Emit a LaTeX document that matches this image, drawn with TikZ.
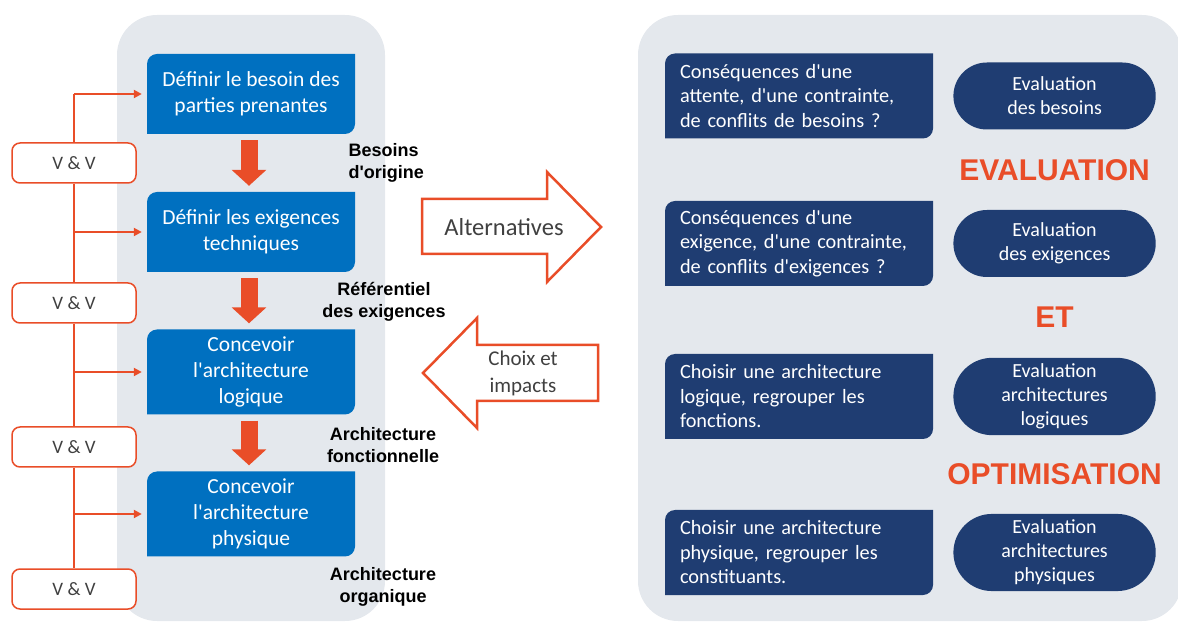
\documentclass[tikz,border=0pt]{standalone}
\usepackage{fontspec}
\setmainfont{Carlito}[Ligatures=TeXOff]
\newfontfamily\arial{Liberation Sans}
\usetikzlibrary{positioning,calc,arrows.meta,shapes.misc}
\definecolor{fondgris}{RGB}{228,232,237}
\definecolor{bleuclair}{RGB}{0,112,192}
\definecolor{bleunuit}{RGB}{31,61,114}
\definecolor{rougeorange}{RGB}{233,77,40}
\definecolor{textegris}{RGB}{64,64,64}
\tikzset{
  coins/.style={fill=fondgris,path picture={\fill[#1] (path picture bounding box.south west) -- ([yshift=-10pt]path picture bounding box.north west) arc[start angle=180,end angle=90,radius=10pt] -- (path picture bounding box.north east) -- ([yshift=10pt]path picture bounding box.south east) arc[start angle=0,end angle=-90,radius=10pt] -- cycle;}},
  etape/.style={coins=bleuclair,text=white,align=center,minimum width=208pt,font=\fontsize{21.5}{26}\selectfont},
  piece/.style={coins=bleunuit,text=white,align=left,text width=238pt,inner xsep=15pt,minimum height=85pt,font=\fontsize{20.3}{24.5}\selectfont},
  pastille/.style={rounded rectangle,fill=bleunuit,text=white,align=center,minimum width=209pt,minimum height=67pt,inner ysep=6pt,font=\fontsize{20}{24}\selectfont},
  vv/.style={draw=rougeorange,line width=1.5pt,rounded corners=8pt,fill=white,text=textegris,minimum width=124pt,minimum height=40pt,font=\fontsize{19}{21}\selectfont},
  etiq/.style={align=center,font=\arial\bfseries\fontsize{18}{22.5}\selectfont},
  rouge/.style={text=rougeorange,font=\arial\bfseries\fontsize{30}{36}\selectfont},
  tronc/.style={draw=rougeorange,line width=2.2pt},
  branche/.style={tronc,-{Triangle[length=8pt,width=8pt]},shorten >=5pt},
  descente/.style={draw=rougeorange,line width=17pt,-{Triangle[length=16pt,width=34pt]},shorten <=6pt,shorten >=6pt},
  grossefleche/.style={draw=rougeorange,line width=2.5pt,fill=white,line join=miter}
}
\begin{document}
\begin{tikzpicture}[x=1pt,y=1pt]
\useasboundingbox (0,0) rectangle (1178,624);
\fill[fondgris,rounded corners=40pt] (117,3) rectangle (385,609);
\fill[fondgris,rounded corners=40pt] (638,3) rectangle (1182,609);
\node[etape,minimum height=80pt] (b1) at (251,530) {Définir le besoin des\\parties prenantes};
\node[etape,minimum height=80pt] (b2) at (251,392) {Définir les exigences\\techniques};
\node[etape,minimum height=85pt] (b3) at (251,252) {Concevoir\\l'architecture\\logique};
\node[etape,minimum height=85pt] (b4) at (251,110) {Concevoir\\l'architecture\\physique};
\foreach \a/\b in {b1/b2,b2/b3,b3/b4}
  \draw[descente] ([xshift=-2pt]\a.south) -- ([xshift=-2pt]\b.north);
\node[vv] (v1) at (74,461) {V \& V};
\node[vv] (v2) at (74,321) {V \& V};
\node[vv] (v3) at (74,177) {V \& V};
\node[vv] (v4) at (74,35) {V \& V};
\draw[tronc] (v1.north |- b1.west) -- (v1.north);
\draw[branche] (v1.north |- b1.west) -- (b1.west);
\foreach \a/\b/\c in {v1/v2/b2,v2/v3/b3,v3/v4/b4}{
  \draw[tronc] (\a.south) -- (\b.north);
  \draw[branche] (\a.south |- \c.west) -- (\c.west);
}
\node[etiq,anchor=west,align=left] (o1) at (345,461) {Besoins\\d'origine};
\node[etiq] (o2) at (384,322) {Référentiel\\des exigences};
\node[etiq] (o3) at (383,179) {Architecture\\fonctionnelle};
\node[etiq] (o4) at (383,37) {Architecture\\organique};
\draw[grossefleche] (422,425) -- (547,425) -- (547,452) -- (601,397) -- (547,342) -- (547,370) -- (422,370) -- cycle;
\node[text=textegris,font=\fontsize{24.5}{28}\selectfont] (alt) at (504,397) {Alternatives};
\draw[grossefleche] (598,279) -- (477,279) -- (477,306) -- (423,251) -- (477,196) -- (477,223) -- (598,223) -- cycle;
\node[text=textegris,align=center,font=\fontsize{21}{27}\selectfont] (choix) at (523,250.5) {Choix et\\impacts};
\node[piece] (c1) at (799,528) {Conséquences d'une\\attente, d'une contrainte,\\de conflits de besoins ?};
\node[piece] (c2) at (799,380.5) {Conséquences d'une\\exigence, d'une contrainte,\\de conflits d'exigences ?};
\node[piece] (c3) at (799,227.5) {Choisir une architecture\\logique, regrouper les\\fonctions.};
\node[piece] (c4) at (799,71.5) {Choisir une architecture\\physique, regrouper les\\constituants.};
\node[pastille,right=20pt of c1] (e1) {Evaluation\\des besoins};
\node[pastille,right=20pt of c2] (e2) {Evaluation\\des exigences};
\node[pastille,right=20pt of c3] (e3) {Evaluation\\architectures\\logiques};
\node[pastille,right=20pt of c4] (e4) {Evaluation\\architectures\\physiques};
\node[rouge] (m1) at ($(e1.south)!0.5!(e2.north)$) {EVALUATION};
\node[rouge] (m2) at ($(e2.south)!0.5!(e3.north)$) {ET};
\node[rouge] (m3) at ($(e3.south)!0.5!(e4.north)$) {OPTIMISATION};
\end{tikzpicture}
\end{document}
